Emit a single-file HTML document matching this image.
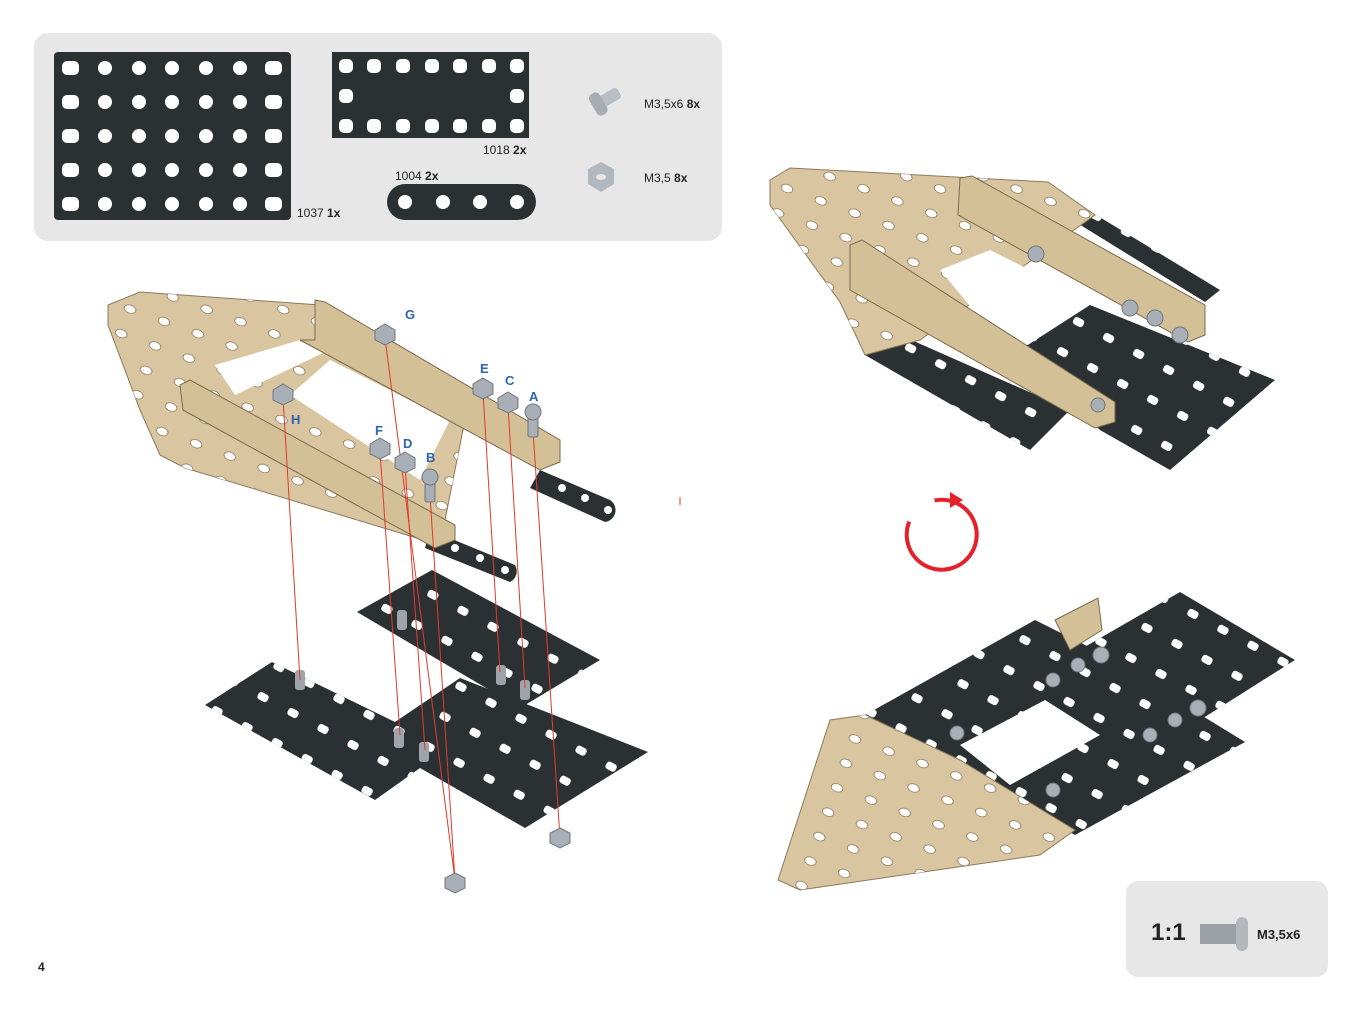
<!DOCTYPE html>
<html><head><meta charset="utf-8"><style>
body{margin:0;background:#fff;width:1367px;height:1011px;overflow:hidden;font-family:"Liberation Sans",sans-serif}
svg{position:absolute;left:0;top:0}
</style></head><body>
<svg width="1367" height="1011" viewBox="0 0 1367 1011" xmlns="http://www.w3.org/2000/svg" font-family="Liberation Sans, sans-serif">
<defs>
<pattern id="hb" width="34" height="34" patternUnits="userSpaceOnUse" patternTransform="rotate(28)"><rect x="10" y="12" width="11" height="8" rx="3" fill="#fff"/></pattern>
<pattern id="hg" width="36" height="26" patternUnits="userSpaceOnUse" patternTransform="rotate(20)"><ellipse cx="12" cy="12" rx="6" ry="4" fill="#fff" stroke="#8a7a5c" stroke-width="0.8"/></pattern>
</defs>
<!-- parts box -->
<rect x="34" y="33" width="688" height="208" rx="14" fill="#e8e7e8"/>
<rect x="54" y="52" width="237" height="168" rx="4" fill="#2b3133"/>
<g fill="#fff">
<g id="r1">
<rect x="62" y="61" width="17" height="14" rx="5"/><circle cx="105" cy="68" r="7"/><circle cx="139" cy="68" r="7"/><circle cx="172" cy="68" r="7"/><circle cx="206" cy="68" r="7"/><circle cx="240" cy="68" r="7"/><rect x="265" y="61" width="17" height="14" rx="5"/>
</g>
<use href="#r1" y="34"/><use href="#r1" y="68"/><use href="#r1" y="102"/><use href="#r1" y="136"/>
</g>
<rect x="332" y="52" width="197" height="86" fill="#2b3133"/>
<g fill="#fff">
<g id="r2"><rect x="339" y="59" width="14" height="14" rx="5"/><rect x="367" y="59" width="14" height="14" rx="5"/><rect x="396" y="59" width="14" height="14" rx="5"/><rect x="425" y="59" width="14" height="14" rx="5"/><rect x="453" y="59" width="14" height="14" rx="5"/><rect x="482" y="59" width="14" height="14" rx="5"/><rect x="510" y="59" width="14" height="14" rx="5"/></g>
<use href="#r2" y="60"/>
<rect x="339" y="89" width="14" height="14" rx="5"/><rect x="510" y="89" width="14" height="14" rx="5"/>
</g>
<rect x="387" y="184" width="149" height="36" rx="18" fill="#2b3133"/>
<g fill="#fff"><circle cx="405" cy="202" r="7"/><circle cx="443" cy="202" r="7"/><circle cx="480" cy="202" r="7"/><circle cx="517" cy="202" r="7"/></g>
<g font-size="12" fill="#222">
<text x="297" y="217">1037 <tspan font-weight="bold">1x</tspan></text>
<text x="483" y="154">1018 <tspan font-weight="bold">2x</tspan></text>
<text x="395" y="180">1004 <tspan font-weight="bold">2x</tspan></text>
<text x="644" y="108">M3,5x6 <tspan font-weight="bold">8x</tspan></text>
<text x="644" y="182">M3,5 <tspan font-weight="bold">8x</tspan></text>
</g>
<g transform="translate(600,103) rotate(-30)"><rect x="0" y="-6" width="22" height="12" rx="3" fill="#b9bec4"/><rect x="-8" y="-12" width="12" height="24" rx="5" fill="#a7adb4"/></g>
<polygon points="601,162 614,169 614,184 601,192 588,184 588,169" fill="#b3b8be"/><ellipse cx="601" cy="177" rx="5" ry="3" fill="#e8e7e8"/>

<!-- LEFT ASSEMBLY: lower black plates -->
<polygon points="357,612 432,570 600,660 520,708" fill="#2b3133"/>
<polygon points="357,612 432,570 600,660 520,708" fill="url(#hb)"/>
<polygon points="205,705 272,662 395,722 460,678 648,752 525,828 420,768 375,800" fill="#2b3133"/>
<polygon points="205,705 272,662 395,722 460,678 648,752 525,828 420,768 375,800" fill="url(#hb)"/>
<g fill="#9ea4aa"><rect x="295" y="670" width="10" height="20" rx="3"/><rect x="397" y="610" width="10" height="20" rx="3"/><rect x="496" y="665" width="10" height="20" rx="3"/><rect x="520" y="680" width="10" height="20" rx="3"/><rect x="394" y="728" width="10" height="20" rx="3"/><rect x="419" y="742" width="10" height="20" rx="3"/></g>
<!-- gold plate -->
<polygon points="108,305 140,292 320,305 470,390 465,420 440,545 185,468 160,455 140,410 108,325" fill="#d9c6a0" stroke="#8a7a5c"/>
<polygon points="108,305 140,292 320,305 470,390 465,420 440,545 185,468 160,455 140,410 108,325" fill="url(#hg)"/>
<polygon points="215,365 300,340 340,345 235,395" fill="#fff"/>
<polygon points="290,395 330,360 450,420 420,480" fill="#fff"/>
<path d="M540,470 L610,500 A12,12 0 0 1 605,522 L530,488 Z" fill="#2b3133"/>
<g fill="#fff"><circle cx="562" cy="488" r="4"/><circle cx="585" cy="498" r="4"/><circle cx="608" cy="510" r="4"/></g>
<path d="M430,530 L515,565 A12,12 0 0 1 510,582 L425,548 Z" fill="#2b3133"/>
<g fill="#fff"><circle cx="455" cy="548" r="4"/><circle cx="480" cy="558" r="4"/><circle cx="505" cy="570" r="4"/></g>
<polygon points="315,300 325,302 560,440 560,462 540,470 300,340 315,340" fill="#d4c096" stroke="#7a6a50"/>
<polygon points="180,385 190,380 455,525 455,540 435,548 183,410" fill="#d4c096" stroke="#7a6a50"/>
<g stroke="#e03a2c" stroke-width="1">
<line x1="385" y1="338" x2="455" y2="880"/><line x1="283" y1="398" x2="300" y2="680"/>
<line x1="380" y1="452" x2="400" y2="735"/><line x1="405" y1="466" x2="425" y2="750"/>
<line x1="430" y1="495" x2="455" y2="880"/><line x1="533" y1="430" x2="560" y2="838"/>
<line x1="483" y1="392" x2="500" y2="672"/><line x1="508" y1="406" x2="525" y2="688"/>
</g>
<g fill="#a9afb6" stroke="#70767c">
<polygon points="385,324 395,330 395,340 385,345 375,340 375,330"/>
<polygon points="283,384 293,390 293,400 283,405 273,400 273,390"/>
<polygon points="483,378 493,384 493,394 483,399 473,394 473,384"/>
<polygon points="508,392 518,398 518,408 508,413 498,408 498,398"/>
<polygon points="380,438 390,444 390,454 380,459 370,454 370,444"/>
<polygon points="405,452 415,458 415,468 405,473 395,468 395,458"/>
<polygon points="455,873 465,878 465,888 455,893 445,888 445,878"/>
<polygon points="560,828 570,833 570,843 560,848 550,843 550,833"/>
<rect x="528" y="415" width="10" height="22" rx="2"/><circle cx="533" cy="412" r="8"/>
<rect x="425" y="482" width="10" height="20" rx="2"/><circle cx="430" cy="477" r="8"/>
</g>
<g fill="#2f65b0" font-weight="bold" font-size="13">
<text x="405" y="319">G</text><text x="291" y="424">H</text><text x="480" y="373">E</text><text x="505" y="385">C</text><text x="529" y="401">A</text><text x="375" y="435">F</text><text x="403" y="448">D</text><text x="426" y="462">B</text>
</g>
<line x1="680" y1="497" x2="680" y2="505" stroke="#e03a2c"/>

<!-- TOP RIGHT -->
<polygon points="1040,200 1055,190 1220,290 1205,302" fill="#2b3133"/>
<polygon points="1040,200 1055,190 1220,290 1205,302" fill="url(#hb)"/>
<polygon points="1020,350 1090,305 1275,380 1170,470 1100,430" fill="#2b3133"/>
<polygon points="1020,350 1090,305 1275,380 1170,470 1100,430" fill="url(#hb)"/>
<polygon points="865,355 900,335 1070,410 1030,450" fill="#2b3133"/>
<polygon points="865,355 900,335 1070,410 1030,450" fill="url(#hb)"/>
<polygon points="770,180 790,168 1048,182 1095,215 920,340 865,355 840,302 770,205" fill="#d9c6a0" stroke="#8a7a5c"/>
<polygon points="770,180 790,168 1048,182 1095,215 920,340 865,355 840,302 770,205" fill="url(#hg)"/>
<polygon points="940,270 990,250 1070,290 990,330" fill="#fff"/>
<polygon points="960,178 972,176 1205,305 1205,335 1188,342 958,215" fill="#d4c096" stroke="#7a6a50"/>
<polygon points="850,245 862,240 1115,402 1115,422 1095,428 850,290" fill="#d4c096" stroke="#7a6a50"/>
<g fill="#a9afb6" stroke="#70767c"><circle cx="1036" cy="254" r="8"/><circle cx="1130" cy="308" r="8"/><circle cx="1155" cy="318" r="8"/><circle cx="1180" cy="335" r="8"/><circle cx="1098" cy="405" r="7"/></g>

<!-- rotate arrow -->
<path d="M958,505 A35,35 0 1 1 925,505" transform="rotate(-40 940 535)" fill="none" stroke="#e5202a" stroke-width="4"/>
<polygon points="950,492 963,500 950,508" fill="#e5202a"/>

<!-- BOTTOM RIGHT -->
<polygon points="1010,690 1180,592 1295,660 1200,720 1130,760" fill="#2b3133"/>
<polygon points="1010,690 1180,592 1295,660 1200,720 1130,760" fill="url(#hb)"/>
<polygon points="865,715 1035,620 1095,650 1245,742 1075,835 1010,800 960,765" fill="#2b3133"/>
<polygon points="865,715 1035,620 1095,650 1245,742 1075,835 1010,800 960,765" fill="url(#hb)"/>
<polygon points="960,745 1045,700 1100,735 1010,785" fill="#fff"/>
<polygon points="1055,620 1098,598 1102,630 1070,650" fill="#d4c096" stroke="#7a6a50"/>
<polygon points="778,880 830,720 865,715 960,760 1075,830 1040,855 800,890" fill="#d9c6a0" stroke="#8a7a5c"/>
<polygon points="778,880 830,720 865,715 960,760 1075,830 1040,855 800,890" fill="url(#hg)"/>
<g fill="#a9afb6" stroke="#70767c"><circle cx="1101" cy="655" r="8"/><circle cx="1078" cy="665" r="7"/><circle cx="1053" cy="680" r="7"/><circle cx="957" cy="733" r="7"/><circle cx="1198" cy="708" r="8"/><circle cx="1175" cy="720" r="7"/><circle cx="1150" cy="735" r="7"/><circle cx="1053" cy="790" r="7"/></g>

<rect x="1126" y="881" width="202" height="96" rx="12" fill="#e8e7e8"/>
<text x="1151" y="940" font-size="24" font-weight="bold" fill="#222">1:1</text>
<rect x="1200" y="924" width="38" height="20" fill="#9aa0a6"/>
<rect x="1236" y="917" width="12" height="34" rx="6" fill="#b4b8bd"/>
<text x="1257" y="939" font-size="13" font-weight="bold" fill="#222">M3,5x6</text>
<text x="38" y="971" font-size="12" font-weight="bold" fill="#222">4</text>
</svg>
</body></html>
